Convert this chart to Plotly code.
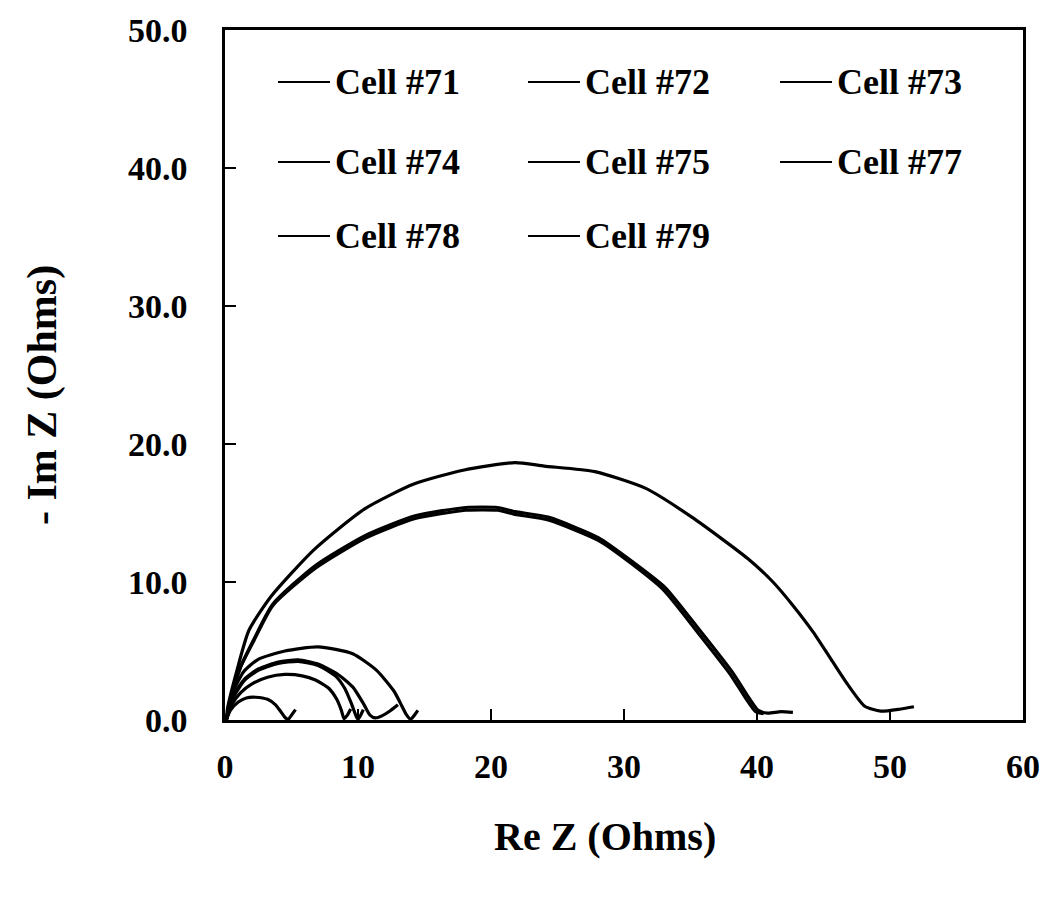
import plotly.graph_objects as go

# ---- data (Re Z, -Im Z in Ohms) ----
cells = ["Cell #71", "Cell #72", "Cell #73", "Cell #74",
         "Cell #75", "Cell #77", "Cell #78", "Cell #79"]

x71 = [0.1, 0.4, 1.0, 1.6, 2.3, 3.2, 3.8, 4.2, 4.5, 4.75, 5.0, 5.3]
y71 = [0.0, 0.7, 1.3, 1.6, 1.65, 1.5, 1.1, 0.6, 0.2, 0.05, 0.35, 0.75]

x72 = [0.1, 0.5, 1.2, 2.0, 3.2, 4.5, 5.8, 6.8, 7.8, 8.4, 8.75, 8.95, 9.2, 9.45]
y72 = [0.0, 1.1, 2.0, 2.6, 3.1, 3.3, 3.2, 2.9, 2.3, 1.5, 0.7, 0.1, 0.35, 0.8]

x73 = [0.1, 0.6, 1.5, 2.5, 4.0, 5.5, 7.0, 8.3, 9.0, 9.5, 9.85, 10.0, 10.2, 10.4]
y73 = [0.0, 1.6, 2.9, 3.6, 4.1, 4.25, 3.95, 3.2, 2.3, 1.2, 0.3, 0.05, 0.35, 0.75]

x74 = [0.1, 0.6, 1.5, 2.5, 4.0, 5.5, 7.0, 8.5, 9.6, 10.4, 10.9, 11.3, 11.8, 12.4, 13.0]
y74 = [0.0, 1.7, 3.0, 3.7, 4.2, 4.35, 4.05, 3.3, 2.4, 1.2, 0.35, 0.15, 0.3, 0.65, 1.1]

x75 = [0.1, 0.6, 1.4, 2.5, 4.5, 7.0, 9.6, 11.4, 12.7, 13.2, 13.6, 13.95, 14.2, 14.5]
y75 = [0.0, 2.0, 3.5, 4.4, 5.0, 5.3, 4.8, 3.6, 2.1, 1.2, 0.45, 0.05, 0.3, 0.7]

x77 = [0.1, 0.5, 1.2, 2.2, 3.6, 6.8, 10.6, 14.3, 18.1, 20.5, 21.8, 24.3, 28.1,
       30.6, 33.1, 35.7, 38.2, 39.4, 40.1, 40.8, 41.8, 42.7]
y77 = [0.0, 1.9, 3.9, 5.9, 8.4, 11.2, 13.4, 14.8, 15.4, 15.4, 15.1, 14.7, 13.2,
       11.5, 9.6, 6.5, 3.4, 1.6, 0.7, 0.5, 0.6, 0.55]

x78 = [0.1, 0.5, 1.2, 2.2, 3.6, 6.8, 10.6, 14.3, 18.1, 20.5, 21.8, 24.3, 28.1,
       30.6, 33.0, 35.5, 38.0, 39.2, 39.9, 40.5]
y78 = [0.0, 1.9, 3.9, 5.8, 8.3, 11.0, 13.2, 14.6, 15.2, 15.2, 14.9, 14.5, 13.0,
       11.3, 9.4, 6.4, 3.3, 1.5, 0.6, 0.45]

x79 = [0.1, 0.2, 0.9, 1.8, 3.5, 6.7, 10.5, 14.2, 17.9, 21.8, 24.0, 27.8, 31.6,
       35.1, 39.3, 41.2, 42.7, 44.2, 45.5, 46.8, 48.1, 49.3, 50.8, 51.8]
y79 = [0.0, 0.9, 3.6, 6.5, 9.0, 12.35, 15.3, 17.1, 18.1, 18.65, 18.4, 18.0, 16.8,
       14.7, 11.7, 10.0, 8.3, 6.4, 4.5, 2.6, 1.0, 0.64, 0.8, 0.96]

xs = [x71, x72, x73, x74, x75, x77, x78, x79]
ys = [y71, y72, y73, y74, y75, y77, y78, y79]

x_ticks = [0, 10, 20, 30, 40, 50, 60]
y_ticks = [0, 10, 20, 30, 40, 50]

FONT = "Liberation Serif"

fig = go.Figure()
for name, xv, yv in zip(cells, xs, ys):
    fig.add_trace(go.Scatter(
        x=xv, y=yv, name=name, mode="lines",
        line=dict(color="black", width=3.2, shape="spline", smoothing=0.6),
        showlegend=False,
    ))

# ---- manual legend (3 columns) ----
L, R, T, B = 225, 1023, 30, 720
def px_to_paper(px, py):
    return (px - L) / (R - L), (B - py) / (B - T)

col_px = [278, 528, 780]
row_py = [82, 162, 236]
line_len = 52
for i, name in enumerate(cells):
    r, c = divmod(i, 3)
    x0, yy = px_to_paper(col_px[c], row_py[r])
    x1, _ = px_to_paper(col_px[c] + line_len, row_py[r])
    fig.add_shape(type="line", xref="paper", yref="paper",
                  x0=x0, x1=x1, y0=yy, y1=yy,
                  line=dict(color="black", width=2))
    xt, _ = px_to_paper(col_px[c] + line_len + 3, row_py[r])
    fig.add_annotation(xref="paper", yref="paper", x=xt, y=yy,
                       text=name, showarrow=False, xanchor="left",
                       yanchor="middle",
                       font=dict(family=FONT, size=36, color="black",
                                 weight="bold"))

# axis titles
fig.add_annotation(xref="paper", yref="paper",
                   x=px_to_paper(605, 0)[0], y=px_to_paper(0, 836)[1],
                   text="Re Z (Ohms)", showarrow=False,
                   xanchor="center", yanchor="middle",
                   font=dict(family=FONT, size=40, color="black", weight="bold"))
fig.add_annotation(xref="paper", yref="paper",
                   x=px_to_paper(42, 0)[0], y=px_to_paper(0, 395)[1],
                   text="- Im Z (Ohms)", showarrow=False, textangle=-90,
                   xanchor="center", yanchor="middle",
                   font=dict(family=FONT, size=42, color="black", weight="bold"))

fig.update_xaxes(
    range=[0, 60], tickvals=x_ticks, ticktext=[str(v) for v in x_ticks],
    ticks="inside", ticklen=11, tickwidth=2, tickcolor="black",
    showline=True, linecolor="black", linewidth=2.5, mirror=True,
    showgrid=False, zeroline=False, ticklabelstandoff=14,
    tickfont=dict(family=FONT, size=34, color="black", weight="bold"),
)
fig.update_yaxes(
    range=[0, 50], tickvals=y_ticks, ticktext=[f"{v:.1f}" for v in y_ticks],
    ticks="inside", ticklen=11, tickwidth=2, tickcolor="black",
    showline=True, linecolor="black", linewidth=2.5, mirror=True,
    showgrid=False, zeroline=False, ticklabelstandoff=28,
    tickfont=dict(family=FONT, size=34, color="black", weight="bold"),
)

fig.update_layout(
    width=1044, height=914,
    margin=dict(l=L, r=1044 - R, t=T, b=914 - B, autoexpand=False),
    paper_bgcolor="white", plot_bgcolor="white",
    showlegend=False,
)

fig.write_html("out.html",
               config={"displayModeBar": False},
               post_script="document.body.style.margin='0';"
                           "document.body.style.overflow='hidden';")
